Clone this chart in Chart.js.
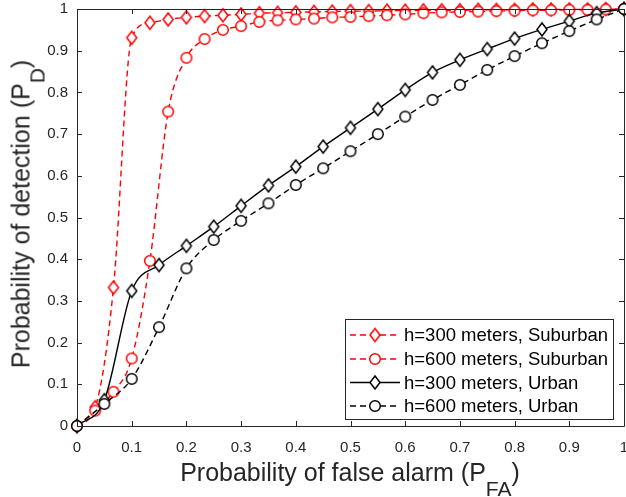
<!DOCTYPE html>
<html>
<head>
<meta charset="utf-8">
<script src="https://cdn.jsdelivr.net/npm/chart.js@4.4.1/dist/chart.umd.min.js"></script>
<style>
  body { margin: 0; background: #fff; }
  #wrap { position: relative; width: 626px; height: 497px; overflow: hidden; }
  .axtitle {
    position: absolute;
    font-family: "Liberation Sans", Arial, sans-serif;
    font-size: 25px;
    color: #262626;
    white-space: nowrap;
    line-height: 25px;
    height: 25px;
  }
  .axtitle sub { font-size: 21px; vertical-align: baseline; position: relative; top: 15px; }
  #xtitle { left: 350px; top: 460px; transform: translateX(-50%); }
  #ytitle { left: 21px; top: 214px; transform: translate(-50%, -50%) rotate(-90deg); }
</style>
</head>
<body>
<div id="wrap">
  <canvas id="myChart" width="626" height="497"></canvas>
  <div class="axtitle" id="xtitle">Probability of false alarm (P<sub>FA</sub>)</div>
  <div class="axtitle" id="ytitle">Probability of detection (P<sub>D</sub>)</div>
</div>
<script>
(function () {
  'use strict'

  // x positions of the suburban curves (steps of 1/30)
  const pfaFine = [0, 0.0333, 0.0667, 0.1, 0.1333, 0.1667, 0.2, 0.2333, 0.2667, 0.3,
    0.3333, 0.3667, 0.4, 0.4333, 0.4667, 0.5, 0.5333, 0.5667, 0.6, 0.6333,
    0.6667, 0.7, 0.7333, 0.7667, 0.8, 0.8333, 0.8667, 0.9, 0.9333, 0.9667, 1]
  // x positions of the urban curves (steps of 0.05)
  const pfaCoarse = [0, 0.05, 0.1, 0.15, 0.2, 0.25, 0.3, 0.35, 0.4, 0.45, 0.5,
    0.55, 0.6, 0.65, 0.7, 0.75, 0.8, 0.85, 0.9, 0.95, 1]

  const pdSub300 = [0, 0.045, 0.332, 0.931, 0.967, 0.975, 0.980, 0.983, 0.985, 0.987,
    0.990, 0.991, 0.992, 0.993, 0.994, 0.995, 0.995, 0.996, 0.996, 0.997,
    0.997, 0.997, 0.998, 0.998, 0.998, 0.999, 0.999, 0.999, 0.999, 1.0, 1.0]
  const pdSub600 = [0, 0.037, 0.082, 0.162, 0.396, 0.754, 0.883, 0.928, 0.950, 0.959,
    0.969, 0.973, 0.975, 0.977, 0.980, 0.981, 0.983, 0.985, 0.987, 0.990,
    0.992, 0.993, 0.994, 0.995, 0.996, 0.997, 0.997, 0.998, 0.998, 0.999, 1.0]
  const pdUrb300 = [0, 0.062, 0.324, 0.386, 0.432, 0.478, 0.528, 0.577, 0.622, 0.670,
    0.715, 0.760, 0.806, 0.848, 0.878, 0.904, 0.929, 0.951, 0.971, 0.990, 1.0]
  const pdUrb600 = [0, 0.053, 0.113, 0.237, 0.378, 0.446, 0.492, 0.534, 0.578, 0.618,
    0.659, 0.700, 0.742, 0.782, 0.818, 0.854, 0.887, 0.918, 0.947, 0.975, 1.0]

  const seriesNames = ['h=300 meters, Suburban', 'h=600 meters, Suburban',
    'h=300 meters, Urban', 'h=600 meters, Urban']
  const tickLabels = ['0', '0.1', '0.2', '0.3', '0.4', '0.5', '0.6', '0.7', '0.8', '0.9', '1']

  const FONT = '"Liberation Sans", Arial, sans-serif'
  const AXIS = '#262626'

  function makeDiamond (color) {
    const c = document.createElement('canvas')
    c.width = 14; c.height = 17
    const g = c.getContext('2d')
    g.beginPath()
    g.moveTo(7, 2); g.lineTo(12, 8.5); g.lineTo(7, 15); g.lineTo(2, 8.5)
    g.closePath()
    g.fillStyle = '#fff'; g.fill()
    g.lineWidth = 1.5; g.strokeStyle = color; g.stroke()
    return c
  }
  function makeCircle (color) {
    const c = document.createElement('canvas')
    c.width = 14; c.height = 14
    const g = c.getContext('2d')
    g.beginPath()
    g.arc(7, 7, 5.3, 0, Math.PI * 2)
    g.fillStyle = '#fff'; g.fill()
    g.lineWidth = 1.5; g.strokeStyle = color; g.stroke()
    return c
  }

  const toPts = (xs, ys) => xs.map((x, i) => ({ x: x, y: ys[i] }))

  const datasets = [
    { label: seriesNames[0], data: toPts(pfaFine, pdSub300), borderColor: '#ff0000', borderDash: [6, 4],
      pointStyle: makeDiamond('#ff0000'), order: 4 },
    { label: seriesNames[1], data: toPts(pfaFine, pdSub600), borderColor: '#ff0000', borderDash: [6, 4],
      pointStyle: makeCircle('#ff0000'), order: 3 },
    { label: seriesNames[2], data: toPts(pfaCoarse, pdUrb300), borderColor: '#000000', borderDash: [],
      pointStyle: makeDiamond('#000000'), order: 2 },
    { label: seriesNames[3], data: toPts(pfaCoarse, pdUrb600), borderColor: '#000000', borderDash: [6, 4],
      pointStyle: makeCircle('#000000'), order: 1 }
  ].map(d => Object.assign(d, {
    borderWidth: 1.4,
    cubicInterpolationMode: 'monotone',
    pointRadius: 6,
    clip: false,
    fill: false
  }))

  // box round the axes with inward ticks on all four sides (matlab look)
  const boxTicks = {
    id: 'boxTicks',
    afterDatasetsDraw (chart) {
      const { ctx, chartArea: a, scales } = chart
      ctx.save()
      ctx.strokeStyle = AXIS
      ctx.lineWidth = 1
      ctx.setLineDash([])
      ctx.beginPath()
      ctx.rect(Math.round(a.left) + 0.5, Math.round(a.top) + 0.5,
        Math.round(a.right - a.left), Math.round(a.bottom - a.top))
      scales.x.ticks.forEach(t => {
        const px = Math.round(scales.x.getPixelForValue(t.value)) + 0.5
        ctx.moveTo(px, a.bottom); ctx.lineTo(px, a.bottom - 5)
        ctx.moveTo(px, a.top); ctx.lineTo(px, a.top + 5)
      })
      scales.y.ticks.forEach(t => {
        const py = Math.round(scales.y.getPixelForValue(t.value)) + 0.5
        ctx.moveTo(a.left, py); ctx.lineTo(a.left + 5, py)
        ctx.moveTo(a.right, py); ctx.lineTo(a.right - 5, py)
      })
      ctx.stroke()
      ctx.restore()
    }
  }

  const legendBox = {
    id: 'legendBox',
    afterDraw (chart) {
      const ctx = chart.ctx
      const x0 = 345.5, y0 = 319.5, w = 268, h = 100
      const rows = [335, 359, 382.5, 406]
      ctx.save()
      ctx.fillStyle = '#fff'
      ctx.fillRect(x0, y0, w, h)
      ctx.strokeStyle = AXIS
      ctx.lineWidth = 1
      ctx.strokeRect(x0, y0, w, h)
      chart.data.datasets.forEach((ds, i) => {
        const y = rows[i]
        ctx.strokeStyle = ds.borderColor
        ctx.lineWidth = ds.borderWidth
        ctx.setLineDash(ds.borderDash)
        ctx.beginPath()
        ctx.moveTo(350, y); ctx.lineTo(400, y)
        ctx.stroke()
        ctx.setLineDash([])
        const img = ds.pointStyle
        ctx.drawImage(img, 375 - img.width / 2, y - img.height / 2)
        ctx.fillStyle = '#000'
        ctx.font = '18.5px ' + FONT
        ctx.textBaseline = 'middle'
        ctx.textAlign = 'left'
        ctx.fillText(ds.label, 404, y + 1)
      })
      ctx.restore()
    }
  }

  const ctx = document.getElementById('myChart').getContext('2d')

  const myChart = new Chart(ctx, {
    type: 'line',
    data: { datasets: datasets },
    options: {
      responsive: false,
      animation: false,
      layout: { autoPadding: false, padding: { top: 9, right: 2, left: 0, bottom: 0 } },
      plugins: { legend: { display: false }, tooltip: { enabled: false } },
      scales: {
        x: {
          type: 'linear',
          min: 0,
          max: 1,
          grid: { display: false, drawTicks: false },
          border: { display: false },
          ticks: {
            stepSize: 0.1,
            padding: 13,
            maxRotation: 0,
            autoSkip: false,
            color: AXIS,
            font: { family: FONT, size: 15 },
            callback: (v, i) => tickLabels[i]
          },
          afterFit (s) { s.height = 71; s.paddingLeft = 0; s.paddingRight = 0 }
        },
        y: {
          type: 'linear',
          min: 0,
          max: 1,
          grid: { display: false, drawTicks: false },
          border: { display: false },
          ticks: {
            stepSize: 0.1,
            padding: 9,
            autoSkip: false,
            color: AXIS,
            font: { family: FONT, size: 15 },
            callback: (v, i) => tickLabels[i]
          },
          afterFit (s) { s.width = 77; s.paddingTop = 0; s.paddingBottom = 0 }
        }
      }
    },
    plugins: [boxTicks, legendBox]
  })
})()
</script>
</body>
</html>
